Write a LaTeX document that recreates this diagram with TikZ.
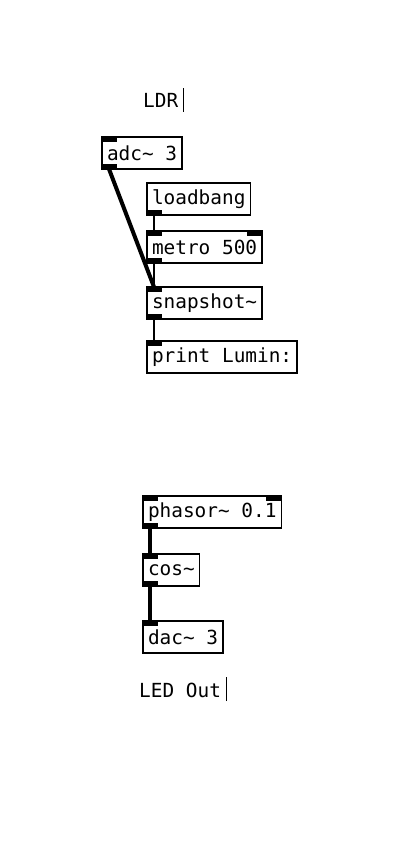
\documentclass[tikz,border=0pt]{standalone}
\usepackage{fontspec}
\setmonofont{DejaVu Sans Mono}
\begin{document}
\begin{tikzpicture}[x=1pt,y=-1pt,
        obj/.style={draw,line width=1.4pt,outer sep=0pt,anchor=north west,inner xsep=5pt,inner ysep=0pt,
            minimum height=32pt,font=\ttfamily\fontsize{19.4}{23}\selectfont},
        cmt/.style={anchor=base west,inner sep=0pt,font=\ttfamily\fontsize{19.4}{23}\selectfont},
        sig/.style={line width=4pt},
        ctl/.style={line width=1.4pt}]
    \useasboundingbox (0,0) rectangle (406,856);
    % sensor part
    \node[cmt] (ldr) at (143,108) {LDR};
    \draw[line width=1.2pt] ([xshift=5pt,yshift=-4pt]ldr.base east) -- ++(0,-24);
    \node[obj] (adc) at (102,137) {adc\textasciitilde{} 3};
    \node[obj] (loadbang) at (147,183) {loadbang};
    \node[obj] (metro) at (147,231) {metro 500};
    \node[obj] (snap) at (147,287) {snapshot\textasciitilde};
    \node[obj] (print) at (147,341) {print Lumin:};
    \draw[sig] ([xshift=7pt]adc.south west) -- ([xshift=7pt]snap.north west);
    \draw[ctl] ([xshift=7pt]loadbang.south west) -- ([xshift=7pt]metro.north west);
    \draw[ctl] ([xshift=7pt]metro.south west) -- ([xshift=7pt]snap.north west);
    \draw[ctl] ([xshift=7pt]snap.south west) -- ([xshift=7pt]print.north west);
    % led part
    \node[obj] (phasor) at (143,496) {phasor\textasciitilde{} 0.1};
    \node[obj] (cos) at (143,554) {cos\textasciitilde};
    \node[obj] (dac) at (143,621) {dac\textasciitilde{} 3};
    \node[cmt] (led) at (139,697) {LED Out};
    \draw[line width=1.2pt] ([xshift=5pt,yshift=-4pt]led.base east) -- ++(0,-24);
    \draw[sig] ([xshift=7pt]phasor.south west) -- ([xshift=7pt]cos.north west);
    \draw[sig] ([xshift=7pt]cos.south west) -- ([xshift=7pt]dac.north west);
    % inlets and outlets
    \foreach \n in {adc,metro,snap,print,phasor,cos,dac}
        \fill (\n.north west) rectangle ++(15,5);
    \foreach \n in {adc,loadbang,metro,snap,phasor,cos}
        \fill (\n.south west) rectangle ++(15,-5);
    \foreach \n in {metro,phasor}
        \fill (\n.north east) rectangle ++(-15,5);
\end{tikzpicture}
\end{document}
